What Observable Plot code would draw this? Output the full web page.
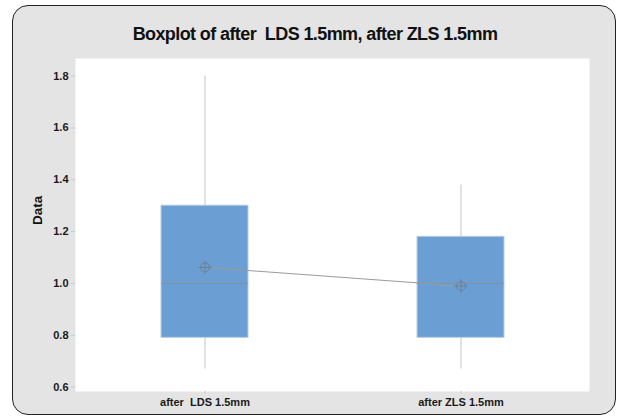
<!DOCTYPE html>
<html>
<head>
<meta charset="utf-8">
<script src="https://cdn.jsdelivr.net/npm/d3@7"></script>
<script src="https://cdn.jsdelivr.net/npm/@observablehq/plot@0.6"></script>
<style>
  html, body { margin: 0; padding: 0; background: #ffffff; }
  #wrap { position: relative; width: 617px; height: 417px; overflow: hidden; font-family: "Liberation Sans", Arial, sans-serif; }
  #panel { position: absolute; left: 12px; top: 5px; width: 604px; height: 410px; box-sizing: border-box;
           border: 1.6px solid #222; border-radius: 16px; background: #e4e4e4; }
  #title { position: absolute; left: 0; top: 24px; width: 630px; text-align: center; font-weight: bold;
           font-size: 18px; letter-spacing: -0.6px; white-space: pre; color: #111; }
  #chart { position: absolute; left: 0; top: 58px; }
  #chart svg text { white-space: pre; }
</style>
</head>
<body>
<div id="wrap">
  <div id="panel"></div>
  <div id="title">Boxplot of after  LDS 1.5mm, after ZLS 1.5mm</div>
  <div id="chart"></div>
</div>
<script>
const categories = ["after  LDS 1.5mm", "after ZLS 1.5mm"];
const whiskerLow = [0.67, 0.67];
const q1 = [0.79, 0.79];
const median = [1.0, 1.0];
const q3 = [1.30, 1.18];
const whiskerHigh = [1.80, 1.38];
const mean = [1.062, 0.99];
const yTicks = [0.6, 0.8, 1.0, 1.2, 1.4, 1.6, 1.8];
const yLabel = "Data";

const rows = categories.map((c, i) => ({
  cat: c, lo: whiskerLow[i], q1: q1[i], med: median[i], q3: q3[i], hi: whiskerHigh[i], mean: mean[i]
}));

const chart = Plot.plot({
  width: 617,
  height: 359,
  marginTop: 0,
  marginBottom: 26,
  marginLeft: 75,
  marginRight: 28,
  style: { background: "transparent", fontFamily: "Liberation Sans, Arial, sans-serif", overflow: "visible" },
  x: { domain: categories, type: "band", paddingInner: 0.6615, paddingOuter: 0.331, align: 0.5, label: null },
  y: { domain: [0.583, 1.868], label: null },
  marks: [
    Plot.frame({ fill: "white", stroke: "none" }),
    Plot.axisY({ ticks: yTicks, tickFormat: d3.format(".1f"), tickSize: 4, stroke: "#c8c8c8",
                 fill: "#1a1a1a", fontWeight: "bold", fontSize: 11, tickPadding: 3, label: null }),
    Plot.text([yLabel], { text: d => d, frameAnchor: "left", dx: -38, rotate: -90,
                          fontSize: 13.5, fontWeight: "bold", fill: "#111" }),
    Plot.axisX({ tickSize: 3, stroke: "#c8c8c8", fill: "#1a1a1a", fontWeight: "bold", fontSize: 11,
                 tickPadding: 4, label: null }),
    Plot.ruleX(rows, { x: "cat", y1: "lo", y2: "q1", stroke: "#cfcfcf", strokeWidth: 1.2 }),
    Plot.ruleX(rows, { x: "cat", y1: "q3", y2: "hi", stroke: "#cfcfcf", strokeWidth: 1.2 }),
    Plot.barY(rows, { x: "cat", y1: "q1", y2: "q3", fill: "#6b9fd4", stroke: "#b9cde3", strokeWidth: 1 }),
    Plot.tickY(rows, { x: "cat", y: "med", stroke: "#7d8fa6", strokeWidth: 1 }),
    Plot.lineY(rows, { x: "cat", y: "mean", stroke: "#9a9a9a", strokeWidth: 1 }),
    Plot.dot(rows, { x: "cat", y: "mean", r: 4.5, stroke: "#6f7f95", fill: "none", strokeWidth: 1 }),
    Plot.dot(rows, { x: "cat", y: "mean", symbol: "plus", r: 4.5, stroke: "#6f7f95", fill: "none", strokeWidth: 1 })
  ]
});
document.getElementById("chart").appendChild(chart);
</script>
</body>
</html>
